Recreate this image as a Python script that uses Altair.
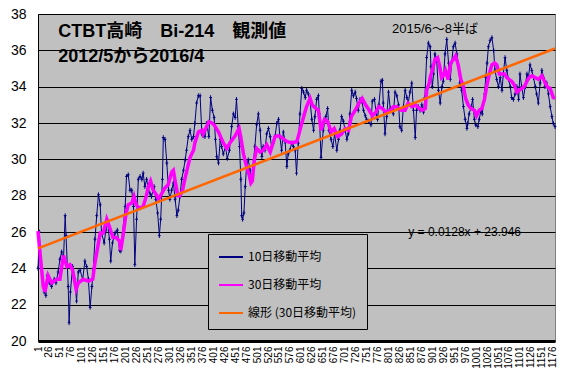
import altair as alt
import pandas as pd

# 10-day moving average (day index, value)
b_day = [1, 4, 7, 11, 15, 19, 22, 27, 32, 38, 42, 47, 51, 55, 59, 63, 65, 68, 70, 72, 75, 80, 85, 89, 93, 97,
         103, 108, 112, 116, 120, 124, 127, 131, 135, 139, 143, 146, 152, 156, 159, 164, 167, 171, 177, 182,
         187, 190, 194, 200, 203, 207, 211, 215, 219, 222, 226, 230, 234, 238, 241, 245, 249, 253, 257, 260,
         266, 270, 274, 278, 281, 285, 287, 291, 295, 299, 302, 306, 310, 314, 318, 321, 325, 329, 333, 337,
         340, 344, 348, 352, 356, 359, 363, 367, 371, 375, 378, 382, 386, 391, 395, 399, 403, 406, 409, 413,
         417, 420, 424, 429, 433, 438, 443, 447, 451, 454, 458, 461, 464, 466, 468, 471, 474, 477, 481, 485,
         489, 493, 496, 500, 504, 508, 512, 515, 519, 523, 527, 531, 534, 538, 542, 546, 550, 553, 557, 561,
         565, 569, 572, 576, 580, 584, 588, 591, 595, 599, 603, 607, 611, 614, 618, 622, 626, 630, 633, 637,
         641, 643, 647, 652, 658, 662, 665, 670, 674, 678, 683, 687, 690, 694, 698, 702, 706, 709, 713, 717,
         721, 725, 728, 732, 736, 740, 744, 748, 751, 755, 761, 764, 769, 773, 776, 779, 784, 787, 789, 793,
         797, 801, 805, 808, 812, 816, 820, 824, 827, 831, 835, 839, 843, 846, 850, 854, 858, 862, 865, 869,
         873, 877, 881, 884, 888, 892, 896, 898, 901, 904, 907, 911, 915, 919, 923, 926, 930, 934, 938, 942,
         945, 949, 953, 957, 961, 964, 968, 972, 976, 980, 982, 985, 990, 993, 997, 1000, 1005, 1008, 1012,
         1015, 1020, 1023, 1026, 1029, 1033, 1037, 1041, 1044, 1048, 1052, 1056, 1060, 1063, 1067, 1071,
         1075, 1079, 1082, 1086, 1090, 1094, 1098, 1101, 1105, 1109, 1113, 1117, 1120, 1124, 1128, 1132,
         1136, 1139, 1143, 1147, 1151, 1155, 1158, 1162, 1166, 1170, 1174, 1177, 1181]
b_val = [24.0, 26.0, 24.5, 23.4, 22.7, 22.5, 23.6, 23.2, 23.0, 23.4, 23.2, 23.8, 24.5, 24.9, 24.4, 26.9, 25.8,
         24.1, 23.0, 21.0, 22.7, 24.1, 23.4, 22.2, 23.8, 23.9, 23.4, 24.4, 24.1, 23.4, 21.85, 23.0, 23.9, 25.6,
         26.9, 28.05, 27.5, 25.95, 25.4, 26.1, 26.7, 25.6, 24.4, 25.4, 25.95, 26.1, 25.0, 24.95, 25.95, 27.4,
         29.06, 29.15, 28.3, 28.3, 27.4, 24.2, 26.7, 28.9, 29.06, 28.9, 29.24, 28.5, 28.9, 28.3, 28.1, 27.96,
         28.5, 27.8, 27.05, 25.8, 26.7, 28.9, 31.2, 31.1, 29.8, 28.3, 27.8, 28.3, 28.7, 27.8, 26.9, 27.2, 27.96,
         28.9, 29.4, 29.97, 30.5, 31.25, 31.6, 31.1, 31.25, 31.98, 33.1, 33.5, 33.5, 31.4, 31.3, 31.25, 31.98,
         31.25, 33.4, 32.7, 32.3, 31.1, 30.15, 29.8, 31.1, 30.7, 30.3, 30.7, 30.05, 30.5, 31.8, 32.5, 32.3,
         33.3, 31.8, 30.7, 28.9, 26.9, 26.7, 27.05, 28.5, 29.6, 29.97, 29.4, 28.9, 29.97, 30.7, 31.9, 32.5,
         31.6, 30.15, 30.7, 30.5, 31.4, 31.7, 31.25, 30.7, 30.9, 31.25, 31.98, 32.2, 31.25, 30.5, 31.5, 30.98,
         29.6, 30.3, 30.5, 30.9, 30.7, 30.5, 29.24, 30.9, 32.5, 33.9, 33.7, 33.4, 33.8, 33.6, 33.2, 32.2,
         31.6, 32.35, 33.3, 33.5, 32.5, 30.1, 31.6, 32.35, 32.8, 31.6, 31.1, 30.7, 31.4, 30.5, 31.1, 31.6,
         32.35, 32.1, 31.6, 31.1, 31.4, 32.5, 33.8, 33.5, 33.7, 33.35, 32.7, 33.3, 33.2, 32.7, 32.4, 32.2,
         32.1, 31.9, 33.2, 33.3, 32.5, 32.2, 33.0, 34.3, 34.35, 33.1, 31.4, 32.35, 33.7, 32.8, 32.7, 32.5,
         33.7, 33.5, 33.0, 31.8, 31.6, 32.9, 33.8, 33.4, 33.1, 33.7, 34.2, 32.7, 31.2, 32.7, 32.9, 32.7, 33.0,
         32.6, 33.4, 35.6, 36.4, 36.2, 35.1, 34.0, 34.7, 35.8, 35.45, 33.8, 33.1, 34.0, 34.3, 35.8, 36.6,
         35.3, 34.4, 35.3, 36.2, 36.4, 35.8, 35.1, 34.2, 33.8, 32.9, 32.2, 31.7, 31.98, 32.5, 32.9, 33.3,
         32.2, 31.9, 31.8, 32.2, 32.7, 32.5, 33.6, 34.5, 35.3, 36.2, 36.55, 36.7, 36.0, 34.9, 34.4, 34.0,
         34.5, 33.8, 34.7, 35.6, 34.9, 34.4, 34.0, 33.4, 33.3, 33.6, 34.0, 33.3, 34.7, 34.0, 33.4, 34.0,
         34.7, 34.45, 35.2, 34.9, 34.5, 34.0, 33.6, 33.1, 34.2, 34.9, 34.5, 34.0, 34.2, 33.6, 32.9, 32.35,
         31.98, 31.8]

# 30-day moving average (day index, value)
m_day = [1, 5, 13, 17, 24, 32, 44, 51, 59, 67, 74, 80, 88, 93, 104, 116, 126, 131, 139, 143, 150, 158, 164,
         172, 179, 187, 190, 196, 202, 207, 215, 220, 225, 232, 241, 248, 253, 258, 264, 270, 276, 283, 290,
         298, 306, 310, 314, 320, 325, 331, 337, 342, 348, 356, 359, 367, 375, 378, 386, 391, 398, 403, 413,
         424, 432, 439, 451, 460, 464, 470, 477, 483, 487, 490, 495, 500, 508, 515, 523, 531, 542, 550, 557,
         569, 580, 592, 595, 601, 609, 614, 622, 627, 635, 641, 647, 655, 662, 670, 677, 685, 694, 702, 710,
         716, 725, 734, 741, 749, 757, 764, 772, 779, 787, 795, 805, 812, 820, 830, 839, 846, 854, 863, 871,
         878, 885, 888, 894, 896, 901, 907, 913, 918, 922, 926, 931, 937, 943, 949, 954, 960, 966, 972, 977,
         983, 989, 997, 1002, 1008, 1014, 1020, 1025, 1031, 1037, 1043, 1048, 1054, 1060, 1066, 1071, 1076,
         1082, 1088, 1094, 1099, 1105, 1111, 1117, 1122, 1128, 1136, 1143, 1151, 1157, 1163, 1170, 1177, 1181]
m_val = [26.05, 25.0, 23.0, 22.7, 23.6, 23.2, 23.4, 23.4, 24.7, 24.1, 24.2, 23.9, 22.85, 23.2, 23.4, 23.3, 23.4,
         24.3, 25.4, 25.95, 25.95, 26.7, 26.3, 25.7, 25.7, 25.5, 25.0, 25.95, 27.05, 27.5, 27.6, 27.96, 27.5,
         27.3, 27.4, 27.96, 28.5, 28.8, 28.3, 28.1, 27.8, 28.1, 28.4, 28.6, 29.3, 29.4, 28.8, 28.0, 28.0, 28.3,
         29.0, 29.5, 30.1, 30.5, 30.9, 31.5, 31.6, 31.4, 31.8, 32.07, 32.0, 31.9, 31.5, 30.9, 30.6, 30.9, 31.3,
         31.7, 31.2, 30.3, 29.6, 29.15, 28.7, 28.8, 30.0, 30.6, 30.4, 30.5, 30.8, 30.4, 31.25, 31.3, 31.2,
         30.98, 30.9, 30.98, 31.25, 31.8, 32.5, 32.9, 33.35, 32.99, 32.8, 32.7, 31.6, 32.2, 32.1, 31.5, 31.7,
         31.25, 31.4, 31.7, 31.6, 32.35, 32.7, 33.1, 33.35, 32.99, 32.7, 32.4, 32.6, 32.9, 32.8, 32.6, 32.7,
         32.9, 32.9, 32.7, 32.7, 33.1, 32.9, 32.99, 32.8, 32.7, 32.8, 33.8, 34.2, 34.5, 34.9, 35.5, 35.6, 35.1,
         34.5, 34.6, 34.9, 34.4, 35.3, 35.5, 35.7, 35.2, 34.4, 34.0, 33.35, 32.99, 32.8, 32.7, 32.4, 32.7,
         32.8, 33.3, 34.0, 34.7, 35.2, 35.3, 35.2, 34.7, 34.7, 34.7, 34.5, 34.4, 34.3, 34.1, 33.7, 33.8, 33.9,
         34.0, 34.3, 34.5, 34.6, 34.5, 34.4, 34.6, 34.3, 34.0, 33.9, 33.4, 33.35]

# linear trend (30-day MA), endpoints as drawn
t_day = [1, 1181]
t_val = [25.1, 36.1]

x_ticks = list(range(1, 1177, 25))
y_ticks = [20, 22, 24, 26, 28, 30, 32, 34, 36, 38]

names = ["10日移動平均", "30日移動平均", "線形 (30日移動平均)"]
colors = ["#000080", "#FF00FF", "#FF6600"]

df = pd.concat([
    pd.DataFrame({"day": b_day, "val": b_val, "series": names[0]}),
    pd.DataFrame({"day": m_day, "val": m_val, "series": names[1]}),
    pd.DataFrame({"day": t_day, "val": t_val, "series": names[2]}),
])

notes = pd.DataFrame({
    "day": [47, 47, 809, 846],
    "val": [36.74, 35.34, 36.96, 25.76],
    "txt": ["CTBT高崎　Bi-214　観測値", "2012/5から2016/4", "2015/6～8半ば", "y = 0.0128x + 23.946"],
    "kind": ["title", "title", "note", "eq"],
})

xs = alt.X("day:Q", scale=alt.Scale(domain=[1, 1181], nice=False, zero=False),
           axis=alt.Axis(values=x_ticks, format="d", labelAngle=-90, grid=False, ticks=False, domainWidth=3,
                         domainColor="black", labelFontSize=10, labelPadding=5, title=None,
                         labelFont="Liberation Sans", labelOverlap=False, labelColor="black"))
ys = alt.Y("val:Q", scale=alt.Scale(domain=[20, 38], nice=False, zero=False),
           axis=alt.Axis(values=y_ticks, grid=True, gridColor="black", gridOpacity=1, gridWidth=1,
                         ticks=False, domainColor="black", labelFontSize=14, labelPadding=12,
                         title=None, labelFont="Liberation Sans", labelColor="black",
                         labelOverlap=False))

color = alt.Color("series:N", scale=alt.Scale(domain=names, range=colors),
                  legend=alt.Legend(orient="none", legendX=170, legendY=220, fillColor="#C0C0C0",
                                    strokeColor="black", padding=10, symbolType="stroke",
                                    symbolSize=576, symbolStrokeWidth=2, labelFontSize=12,
                                    labelFont="Noto Sans CJK JP", rowPadding=9, title=None,
                                    labelLimit=300, labelColor="black"))

base = alt.Chart(df)
blue_line = base.transform_filter(alt.datum.series == names[0]).mark_line(strokeWidth=1).encode(x=xs, y=ys, color=color)
blue_pts = base.transform_filter(alt.datum.series == names[0]).mark_point(
    shape="M0,-1L0,1M-0.6,0L0.6,0", filled=False, size=22, strokeWidth=1, color="#000080", opacity=1
).encode(x=xs, y=ys)
mag_line = base.transform_filter(alt.datum.series == names[1]).mark_line(strokeWidth=3.5).encode(x=xs, y=ys, color=color)
trend = base.transform_filter(alt.datum.series == names[2]).mark_line(strokeWidth=2.5).encode(x=xs, y=ys, color=color)

nb = alt.Chart(notes)
titles = nb.transform_filter(alt.datum.kind == "title").mark_text(
    align="left", baseline="alphabetic", fontSize=18, fontWeight="bold",
    font="Liberation Sans, Noto Sans CJK JP", color="black"
).encode(x=xs, y=ys, text="txt:N")
note = nb.transform_filter(alt.datum.kind == "note").mark_text(
    align="left", baseline="alphabetic", fontSize=13, font="Liberation Sans, Noto Sans CJK JP", color="black"
).encode(x=xs, y=ys, text="txt:N")
eq = nb.transform_filter(alt.datum.kind == "eq").mark_text(
    align="left", baseline="alphabetic", fontSize=12, font="Liberation Sans", color="black"
).encode(x=xs, y=ys, text="txt:N")

chart = alt.layer(blue_line, blue_pts, mag_line, trend, titles, note, eq).properties(
    width=517, height=327,
    autosize=alt.AutoSizeParams(type="none"),
    padding={"left": 38, "top": 14, "right": 9, "bottom": 36},
    background="white",
).configure_view(fill="#C0C0C0", stroke="#808080", strokeWidth=1)

chart.save("out.html", embed_options={"renderer": "svg", "actions": False})
